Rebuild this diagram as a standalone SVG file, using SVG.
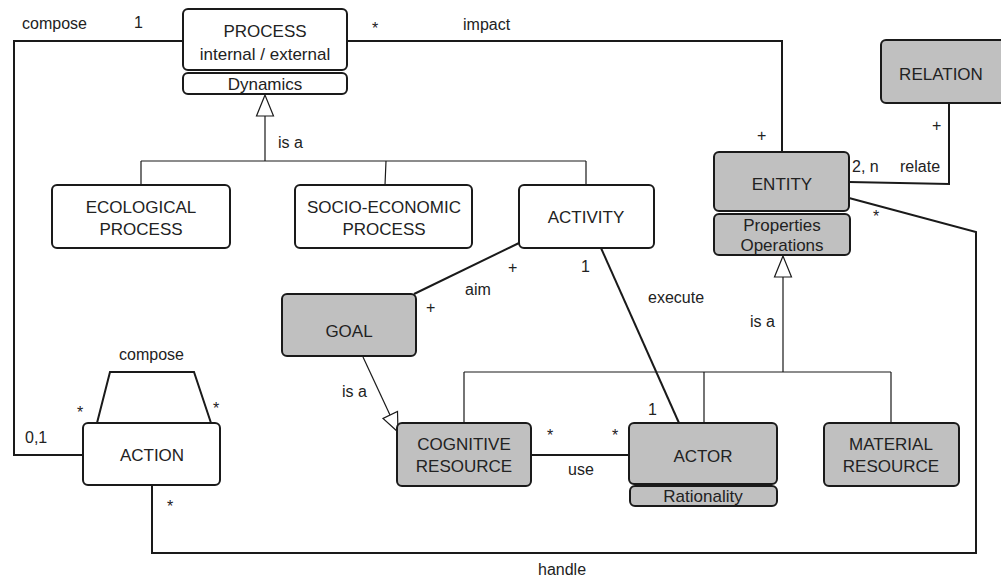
<svg xmlns="http://www.w3.org/2000/svg" width="1001" height="578" viewBox="0 0 1001 578">
<style>
.box{fill:#fff;stroke:#1a1a1a;stroke-width:2}
.g{fill:#c0c0c0;stroke:#1a1a1a;stroke-width:2}
.t{font-family:"Liberation Sans",Arial,sans-serif;font-size:17px;fill:#222;text-anchor:middle}
.l{font-family:"Liberation Sans",Arial,sans-serif;font-size:16px;fill:#222}
.a{fill:none;stroke:#1a1a1a;stroke-width:2}
.gen{fill:none;stroke:#1a1a1a;stroke-width:1.2}
.tri{fill:#fff;stroke:#1a1a1a;stroke-width:1.2}
</style>
<rect width="1001" height="578" fill="#fff"/>
<g id="connectors">
<polyline class="a" points="183,41 14,41 14,455 83,455"/>
<polyline class="a" points="347,41 782,41 782,152"/>
<polyline class="a" points="949,103 949,184 849,182"/>
<polyline class="a" points="849,198 976,232 976,553 152,553 152,486"/>
<line class="a" x1="519" y1="243" x2="414" y2="294"/>
<line class="a" x1="601" y1="248" x2="679" y2="423"/>
<line class="a" x1="531" y1="455" x2="629" y2="455"/>
<polyline class="a" points="97,423 110,372 194,372 211,423"/>
<path class="gen" d="M265,116 V161 M141,161 H586 M141,161 V185 M386,161 L385,185 M586,161 V185"/>
<polygon class="tri" points="265,95 256.5,116 273.5,116"/>
<path class="gen" d="M783,277 V372 M464,372 H891 M464,372 V423 M704,372 V423 M891,372 V423"/>
<polygon class="tri" points="783,256 774.5,277 791.5,277"/>
<line class="gen" x1="363" y1="357" x2="390" y2="415"/>
<polygon class="tri" points="398,432 397.5,411.5 383,418.5"/>
<text class="l" x="22" y="29">compose</text>
<text class="l" x="134" y="28">1</text>
<text class="l" x="372" y="34">*</text>
<text class="l" x="463" y="30">impact</text>
<text class="l" x="757" y="141">+</text>
<text class="l" x="932" y="131">+</text>
<text class="l" x="900" y="172">relate</text>
<text class="l" x="852" y="172">2, n</text>
<text class="l" x="873" y="222">*</text>
<text class="l" x="278" y="148">is a</text>
<text class="l" x="465" y="295">aim</text>
<text class="l" x="508" y="273">+</text>
<text class="l" x="581" y="272">1</text>
<text class="l" x="426" y="313">+</text>
<text class="l" x="648" y="303">execute</text>
<text class="l" x="750" y="327">is a</text>
<text class="l" x="648" y="415">1</text>
<text class="l" x="547" y="441">*</text>
<text class="l" x="612" y="441">*</text>
<text class="l" x="568" y="475">use</text>
<text class="l" x="538" y="575">handle</text>
<text class="l" x="342" y="397">is a</text>
<text class="l" x="119" y="360">compose</text>
<text class="l" x="77" y="418">*</text>
<text class="l" x="213" y="414">*</text>
<text class="l" x="25" y="443">0,1</text>
<text class="l" x="167" y="512">*</text>
</g>
<g id="process">
<rect class="box" x="183" y="9" width="164" height="61" rx="5"/>
<text class="t" x="265" y="37">PROCESS</text>
<text class="t" x="265" y="60">internal / external</text>
<rect class="box" x="183" y="73" width="164" height="21" rx="5"/>
<text class="t" x="265" y="90">Dynamics</text>
</g>
<g id="ecological">
<rect class="box" x="52" y="185" width="178" height="63" rx="5"/>
<text class="t" x="141" y="213">ECOLOGICAL</text>
<text class="t" x="141" y="235">PROCESS</text>
</g>
<g id="socio">
<rect class="box" x="295" y="185" width="177" height="63" rx="5"/>
<text class="t" x="384" y="213">SOCIO-ECONOMIC</text>
<text class="t" x="384" y="235">PROCESS</text>
</g>
<g id="activity">
<rect class="box" x="519" y="185" width="135" height="63" rx="5"/>
<text class="t" x="586" y="223">ACTIVITY</text>
</g>
<g id="entity">
<rect class="g" x="714" y="152" width="135" height="59" rx="5"/>
<text class="t" x="782" y="190">ENTITY</text>
<rect class="g" x="714" y="214" width="136" height="41" rx="5"/>
<text class="t" x="782" y="231">Properties</text>
<text class="t" x="782" y="251">Operations</text>
</g>
<g id="relation">
<rect class="g" x="881" y="40" width="125" height="63" rx="5"/>
<text class="t" x="941" y="80">RELATION</text>
</g>
<g id="goal">
<rect class="g" x="282" y="294" width="134" height="62" rx="5"/>
<text class="t" x="349" y="337">GOAL</text>
</g>
<g id="action">
<rect class="box" x="83" y="423" width="137" height="62" rx="5"/>
<text class="t" x="152" y="461">ACTION</text>
</g>
<g id="cognitive">
<rect class="g" x="397" y="423" width="134" height="63" rx="5"/>
<text class="t" x="464" y="450">COGNITIVE</text>
<text class="t" x="464" y="472">RESOURCE</text>
</g>
<g id="actor">
<rect class="g" x="629" y="423" width="148" height="61" rx="5"/>
<text class="t" x="703" y="462">ACTOR</text>
<rect class="g" x="630" y="486" width="147" height="20" rx="5"/>
<text class="t" x="703" y="502">Rationality</text>
</g>
<g id="material">
<rect class="g" x="824" y="423" width="135" height="63" rx="5"/>
<text class="t" x="891" y="450">MATERIAL</text>
<text class="t" x="891" y="472">RESOURCE</text>
</g>
</svg>
